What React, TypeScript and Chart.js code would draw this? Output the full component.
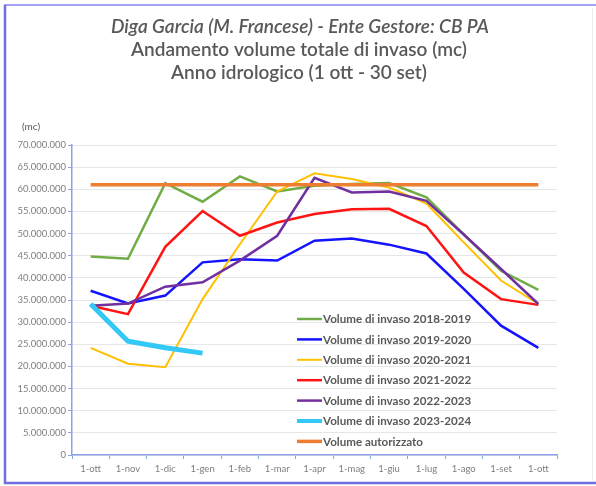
import React, { useEffect, useRef } from "react";
import { Chart, registerables } from "chart.js";

Chart.register(...registerables);

const categories = ["1-ott", "1-nov", "1-dic", "1-gen", "1-feb", "1-mar", "1-apr", "1-mag", "1-giu", "1-lug", "1-ago", "1-set", "1-ott"];

const M = 1000000;
const vol2018 = [44.8, 44.3, 61.4, 57.2, 62.9, 59.5, 60.8, 61.2, 61.4, 58.2, 49.8, 41.6, 37.3];
const vol2019 = [37.1, 34.2, 36.0, 43.5, 44.2, 43.9, 48.4, 48.9, 47.5, 45.5, 37.5, 29.2, 24.2];
const vol2020 = [24.2, 20.6, 19.8, 35.2, 47.6, 59.5, 63.6, 62.3, 60.4, 56.8, 48.0, 39.4, 34.1];
const vol2021 = [33.7, 31.8, 47.0, 55.1, 49.5, 52.5, 54.4, 55.5, 55.6, 51.7, 41.2, 35.2, 33.9];
const vol2022 = [33.7, 34.2, 38.0, 39.0, 43.9, 49.5, 62.6, 59.3, 59.5, 57.4, 49.8, 42.0, 34.1];
const vol2023 = [34.1, 25.7, 24.2, 23.0, null, null, null, null, null, null, null, null, null];
const autorizzato = [61.0, 61.0, 61.0, 61.0, 61.0, 61.0, 61.0, 61.0, 61.0, 61.0, 61.0, 61.0, 61.0];

const seriesNames = [
  "Volume di invaso 2018-2019",
  "Volume di invaso 2019-2020",
  "Volume di invaso 2020-2021",
  "Volume di invaso 2021-2022",
  "Volume di invaso 2022-2023",
  "Volume di invaso 2023-2024",
  "Volume autorizzato",
];
const seriesValues = [vol2018, vol2019, vol2020, vol2021, vol2022, vol2023, autorizzato];
const seriesColors = ["#70ad47", "#1414ff", "#ffc000", "#ff1414", "#7030a0", "#33c8f5", "#ed7d31"];
const seriesWidths = [2.5, 2.5, 2, 2.5, 2.5, 5, 3.5];

const titleLines = [
  "Diga Garcia (M. Francese) - Ente Gestore: CB PA",
  "Andamento volume totale di invaso (mc)",
  "Anno idrologico (1 ott - 30 set)",
];
const unitLabel = "(mc)";

const FONT = "Lato, 'Open Sans', sans-serif";

function fmt(v: number): string {
  return String(Math.round(v)).replace(/\B(?=(\d{3})+(?!\d))/g, ".");
}

const decorPlugin = {
  id: "decor",
  beforeDraw(chart: any) {
    const ctx = chart.ctx;
    ctx.save();
    ctx.fillStyle = "#ffffff";
    ctx.fillRect(0, 0, chart.width, chart.height);
    ctx.restore();
  },
  afterDraw(chart: any) {
    const ctx = chart.ctx;
    ctx.save();
    // frame
    ctx.strokeStyle = "#a4a4f6";
    ctx.lineWidth = 2;
    ctx.beginPath();
    ctx.moveTo(4, 5);
    ctx.lineTo(596, 5);
    ctx.stroke();
    ctx.strokeStyle = "#6f6fe2";
    ctx.lineWidth = 2.5;
    ctx.beginPath();
    ctx.moveTo(5, 5);
    ctx.lineTo(5, 483);
    ctx.lineTo(596, 483);
    ctx.stroke();
    ctx.strokeStyle = "#ececec";
    ctx.lineWidth = 1;
    ctx.beginPath();
    ctx.moveTo(592.5, 8);
    ctx.lineTo(592.5, 481);
    ctx.stroke();

    // titles
    ctx.fillStyle = "#595959";
    ctx.textAlign = "center";
    ctx.textBaseline = "middle";
    ctx.font = `italic 600 19px ${FONT}`;
    ctx.fillText(titleLines[0], 300, 27);
    ctx.font = `600 19px ${FONT}`;
    ctx.fillText(titleLines[1], 299, 50);
    ctx.fillText(titleLines[2], 299, 73);

    ctx.font = `10px ${FONT}`;
    ctx.textAlign = "left";
    ctx.fillText(unitLabel, 22, 127);

    // legend
    const lx = 297;
    const ly = 319;
    const step = 20.4;
    ctx.font = `bold 11.6px ${FONT}`;
    ctx.textAlign = "left";
    ctx.textBaseline = "middle";
    for (let i = 0; i < seriesNames.length; i++) {
      const y = ly + i * step;
      ctx.strokeStyle = seriesColors[i];
      ctx.lineWidth = Math.min(seriesWidths[i], 4);
      ctx.beginPath();
      ctx.moveTo(lx, y);
      ctx.lineTo(lx + 25, y);
      ctx.stroke();
      ctx.fillStyle = "#595959";
      ctx.fillText(seriesNames[i], lx + 26, y + 0.5);
    }
    ctx.restore();
  },
};

export default function App() {
  const ref = useRef<HTMLCanvasElement | null>(null);
  useEffect(() => {
    document.body.style.margin = "0";
    const canvas = ref.current;
    if (!canvas) return;
    const datasets = seriesNames.map((name, i) => ({
      label: name,
      data: seriesValues[i].map((v) => (v === null ? null : v * M)),
      borderColor: seriesColors[i],
      backgroundColor: seriesColors[i],
      borderWidth: seriesWidths[i],
      pointRadius: 0,
      tension: 0,
      fill: false,
      spanGaps: false,
      order: seriesNames.length - i,
    }));
    const chart = new Chart(canvas, {
      type: "line",
      data: { labels: categories, datasets },
      plugins: [decorPlugin],
      options: {
        animation: false,
        responsive: false,
        maintainAspectRatio: false,
        devicePixelRatio: 1,
        layout: { padding: { left: 0, top: 145, right: 39, bottom: 0 } },
        plugins: {
          legend: { display: false },
          tooltip: { enabled: false },
          title: { display: false },
        },
        scales: {
          x: {
            type: "category",
            offset: true,
            afterFit: (axis: any) => {
              axis.height = 31;
            },
            grid: {
              drawOnChartArea: false,
              drawTicks: true,
              tickLength: 4,
              tickColor: "#8ea2ea",
              offset: true,
            },
            border: { color: "#8ea2ea", width: 1.5 },
            ticks: {
              color: "#7f7f7f",
              font: { family: FONT, size: 9.5 },
              padding: 4,
              maxRotation: 0,
              autoSkip: false,
            },
          },
          y: {
            min: 0,
            max: 70 * M,
            afterFit: (axis: any) => {
              axis.width = 72;
            },
            grid: {
              color: "#e6e6e6",
              lineWidth: 1,
              tickLength: 4,
              tickColor: "#8ea2ea",
            },
            border: { color: "#8ea2ea", width: 1.5 },
            ticks: {
              stepSize: 5 * M,
              color: "#7f7f7f",
              font: { family: FONT, size: 9.5 },
              padding: 2,
              callback: (v: any) => fmt(Number(v)),
            },
          },
        },
      },
    });
    return () => chart.destroy();
  }, []);
  return (
    <div style={{ width: 596, height: 486, position: "relative" }}>
      <canvas ref={ref} width={596} height={486} style={{ display: "block", width: 596, height: 486 }} />
    </div>
  );
}
